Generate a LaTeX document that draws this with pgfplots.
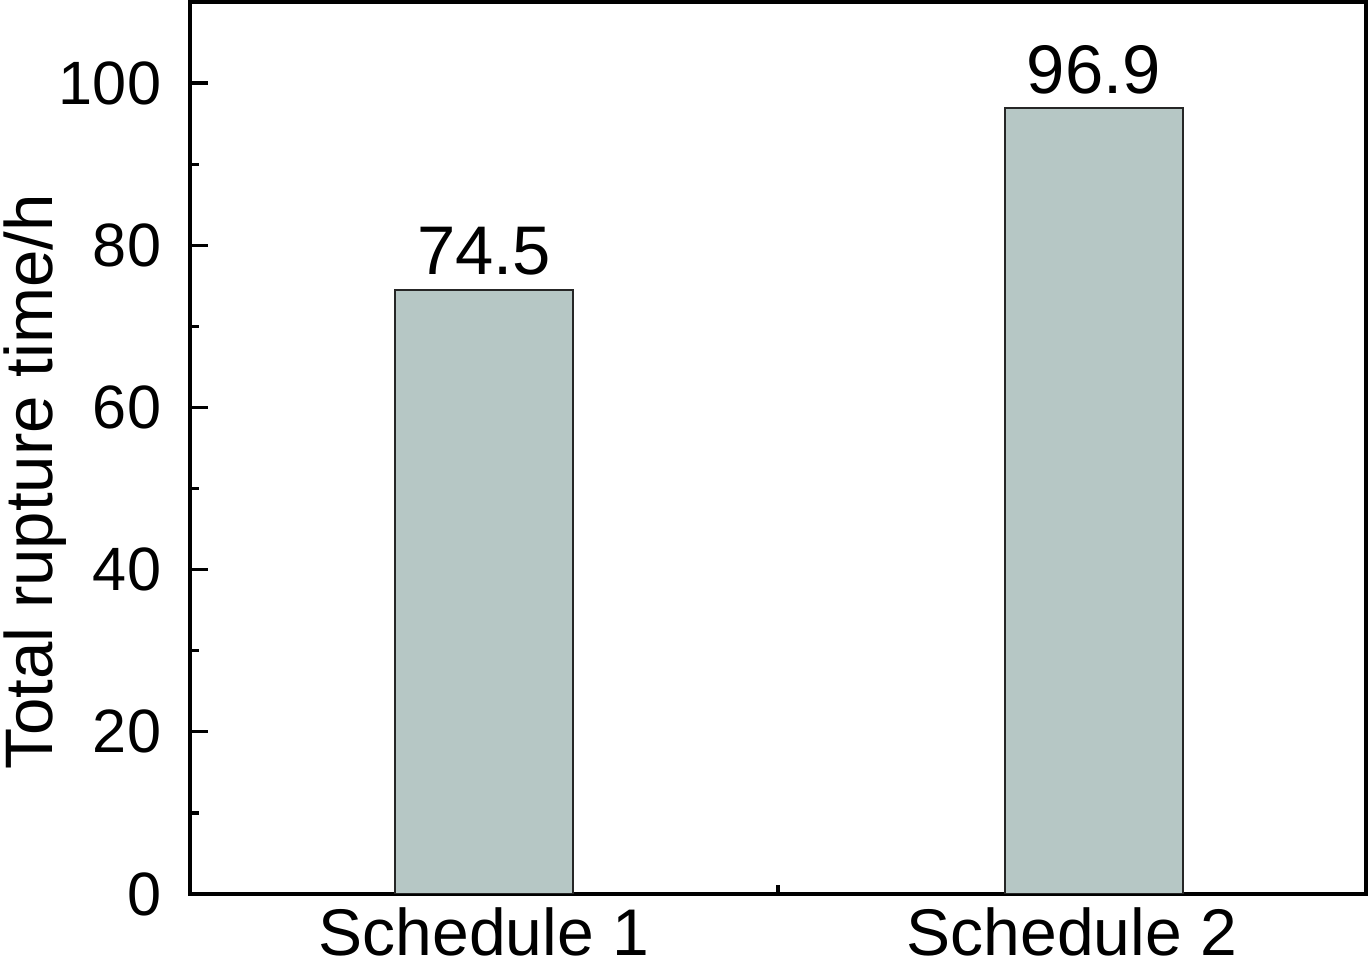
\documentclass[border=0pt]{standalone}
\usepackage{pgfplots}
\pgfplotsset{compat=1.18}
\usepackage{fontspec}
\setmainfont{Liberation Sans}
\definecolor{barfill}{RGB}{182,199,197}

\begin{document}
\begin{tikzpicture}
\begin{axis}[
    name=ax,
    scale only axis,
    width=294pt, height=223pt,
    xmin=0.5, xmax=2.5,
    ymin=0, ymax=110,
    xtick={1,2},
    xticklabels={Schedule 1, Schedule 2},
    minor xtick={1.5},
    ytick={0,20,40,60,80,100},
    minor y tick num=1,
    tick align=inside,
    tick pos=left,
    major tick length=4.5pt,
    minor tick length=2.3pt,
    every tick/.style={black, line width=0.8pt},
    axis line style={line width=1pt},
    yticklabel style={font=\fontsize{15.3}{16}\selectfont, xshift=-3.7pt},
    xticklabel style={font=\fontsize{16.5}{17}\selectfont},
    /pgf/number format/assume math mode=true,
    ylabel={Total rupture time/h},
    y label style={at={(axis description cs:-0.159,0.462)}, anchor=north, inner sep=0pt,
        font=\fontsize{16.8}{17}\selectfont},
]
\addplot[ybar, bar width=44.5pt, fill=barfill, draw=black!85, line width=0.5pt,
    nodes near coords, point meta=explicit symbolic,
    every node near coord/.append style={font=\fontsize{17.2}{18}\selectfont, black}]
    coordinates {(1.0,74.5) [74.5] (2.037,96.9) [96.9]};
\end{axis}
\pgfresetboundingbox
\path[use as bounding box] ([shift={(-47.5pt,-17pt)}]ax.south west) rectangle ([shift={(1pt,0.5pt)}]ax.north east);
\end{tikzpicture}
\end{document}
